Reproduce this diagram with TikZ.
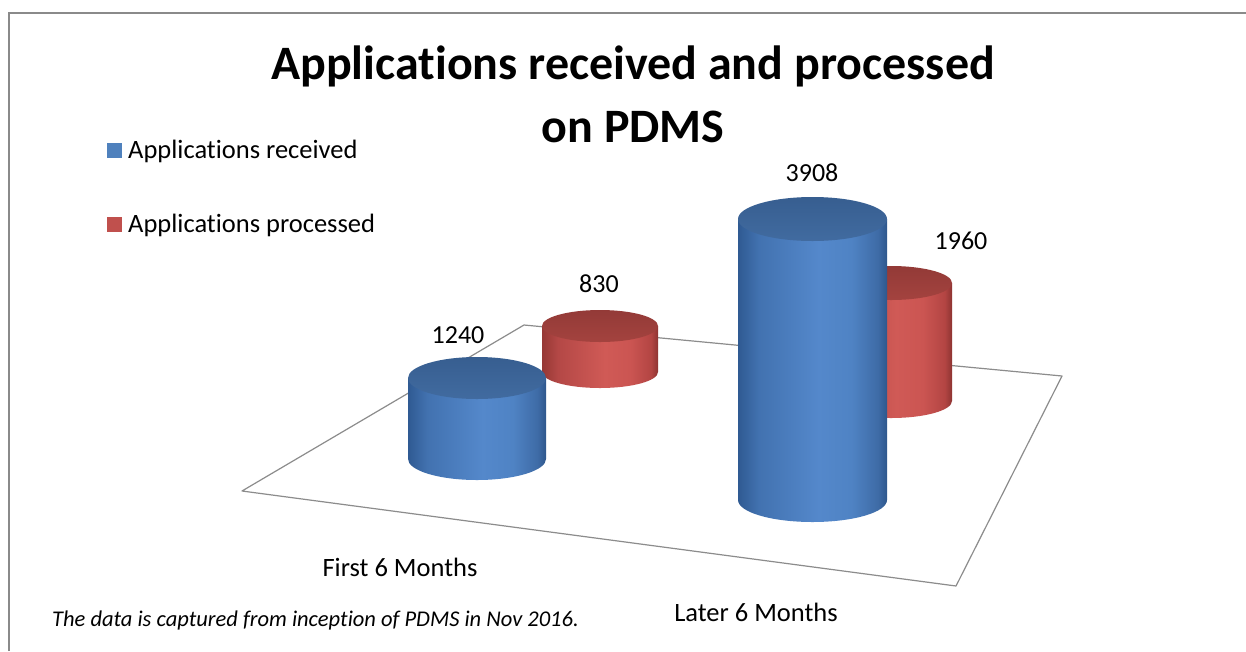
\documentclass[tikz,border=0pt]{standalone}
\usepackage{fontspec}
\setmainfont{Carlito}[RawFeature={-liga;-clig;-calt;-dlig}]
\definecolor{framegray}{HTML}{8A8A8A}
\definecolor{floorgray}{HTML}{8C8C8C}
\definecolor{legblue}{HTML}{4F81BD}
\definecolor{legred}{HTML}{C0504D}
\definecolor{bA}{HTML}{2F5A92}
\definecolor{bB}{HTML}{4272B0}
\definecolor{bC}{HTML}{5488CB}
\definecolor{bD}{HTML}{4F83C4}
\definecolor{bE}{HTML}{3E6BA6}
\definecolor{bF}{HTML}{2E578C}
\definecolor{btopA}{HTML}{375E90}
\definecolor{btopB}{HTML}{416BA0}
\definecolor{rA}{HTML}{963835}
\definecolor{rB}{HTML}{B44846}
\definecolor{rC}{HTML}{D05A56}
\definecolor{rD}{HTML}{CB5552}
\definecolor{rE}{HTML}{B34543}
\definecolor{rF}{HTML}{8E3432}
\definecolor{rtopA}{HTML}{933A37}
\definecolor{rtopB}{HTML}{A4433F}
% side shadings of the cylinders (stops between 25bp and 75bp span the body)
\pgfdeclarehorizontalshading{bluebody}{100bp}{%
  color(0bp)=(bA); color(25bp)=(bA); color(32bp)=(bB);
  color(52bp)=(bC); color(63bp)=(bD); color(72bp)=(bE);
  color(75bp)=(bF); color(100bp)=(bF)}
\pgfdeclarehorizontalshading{redbody}{100bp}{%
  color(0bp)=(rA); color(25bp)=(rA); color(32bp)=(rB);
  color(52bp)=(rC); color(63bp)=(rD); color(72bp)=(rE);
  color(75bp)=(rF); color(100bp)=(rF)}
\tikzset{
  valuelabel/.style={font=\fontsize{26}{30}\selectfont, anchor=base, inner sep=0pt},
  axislabel/.style={font=\fontsize{26.5}{30}\selectfont, anchor=base, inner sep=0pt},
  legendtext/.style={font=\fontsize{26.5}{30}\selectfont, anchor=base west, inner sep=0pt},
  titletext/.style={font=\bfseries\fontsize{48}{56}\selectfont, anchor=base, inner sep=0pt},
  notetext/.style={font=\itshape\fontsize{22.5}{26}\selectfont, anchor=base west, inner sep=0pt},
  floorline/.style={draw=floorgray, line width=1.2pt, line join=round},
}
% upright cylinder: #1 centre x, #2 top centre y, #3 bottom centre y,
% #4 x radius, #5 y radius, #6 body shading, #7 top colour prefix
\newcommand\drawcylinder[7]{%
  \shade[shading=#6]
    ({#1-#4},#2) -- ({#1-#4},#3)
    arc[start angle=180, end angle=0, x radius=#4, y radius=#5]
    -- ({#1+#4},#2) -- cycle;
  \shade[top color=#7A, bottom color=#7B] (#1,#2) ellipse[x radius=#4, y radius=#5];
}
\begin{document}
\begin{tikzpicture}[x=1pt, y=-1pt]
\useasboundingbox (0,0) rectangle (1246,651);
\fill[white] (0,0) rectangle (1246,651);

% chart frame
\draw[framegray, line width=1.6pt] (9,651) -- (9,13) -- (1246,13);

% title
\node[titletext] (title1) at (633,79) {Applications received and processed};
\node[titletext] (title2) at (633,142) {on PDMS};

% legend
\fill[legblue] (107,143) rectangle (122,158);
\node[legendtext] (legrec) at (128,158) {Applications received};
\fill[legred] (107,217) rectangle (122,232);
\node[legendtext] (legproc) at (128,232) {Applications processed};

% floor of the plot
\coordinate (fl) at (242,491);
\coordinate (bl) at (524,325);
\coordinate (br) at (1062,376);
\coordinate (fr) at (956,586);
\draw[floorline] (fl) -- (bl) -- (br) -- (fr) -- cycle;

% back row: applications processed
\drawcylinder{600}{326}{372}{58}{16}{redbody}{rtop}
\drawcylinder{891}{283}{401}{61}{17}{redbody}{rtop}

% front row: applications received
\drawcylinder{477}{378}{459}{69}{21}{bluebody}{btop}
\drawcylinder{812.5}{219}{500}{74.5}{22}{bluebody}{btop}

% value labels
\node[valuelabel] (v1) at (458,343) {1240};
\node[valuelabel] (v2) at (599,292) {830};
\node[valuelabel] (v3) at (812,181) {3908};
\node[valuelabel] (v4) at (961,249) {1960};

% category labels
\node[axislabel] (c1) at (400,576) {First 6 Months};
\node[axislabel] (c2) at (756,621) {Later 6 Months};

% note
\node[notetext] (note) at (52,626)
  {The data is captured from inception of PDMS in Nov 2016.};
\end{tikzpicture}
\end{document}
